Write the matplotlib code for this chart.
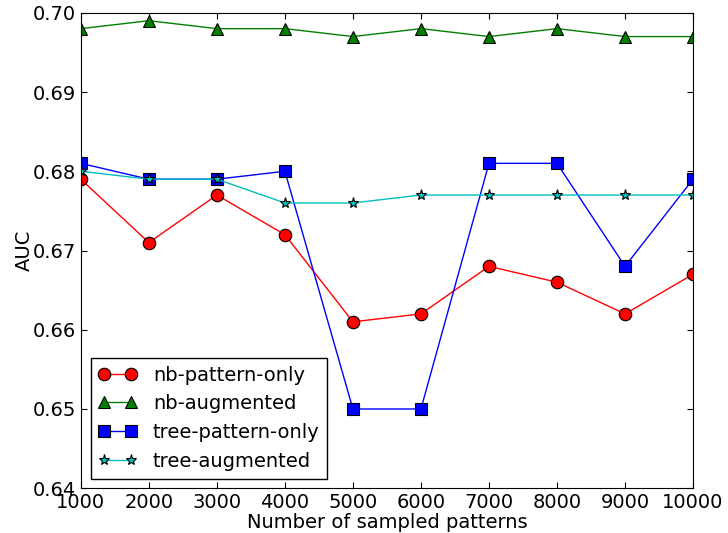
import matplotlib
matplotlib.use("Agg")
import matplotlib.pyplot as plt

samples = [1000, 2000, 3000, 4000, 5000, 6000, 7000, 8000, 9000, 10000]
nb_pattern_only = [0.679, 0.671, 0.677, 0.672, 0.661, 0.662, 0.668, 0.666, 0.662, 0.667]
nb_augmented = [0.698, 0.699, 0.698, 0.698, 0.697, 0.698, 0.697, 0.698, 0.697, 0.697]
tree_pattern_only = [0.681, 0.679, 0.679, 0.680, 0.650, 0.650, 0.681, 0.681, 0.668, 0.679]
tree_augmented = [0.680, 0.679, 0.679, 0.676, 0.676, 0.677, 0.677, 0.677, 0.677, 0.677]

plt.rcParams["font.size"] = 14
plt.rcParams["xtick.direction"] = "in"
plt.rcParams["ytick.direction"] = "in"

fig = plt.figure(figsize=(7.28, 5.33), dpi=100)
ax = fig.add_axes([0.111, 0.084, 0.841, 0.892])

ax.plot(samples, nb_pattern_only, color="red", marker="o", markersize=9,
        markeredgecolor="black", markeredgewidth=0.8, lw=1, label="nb-pattern-only")
ax.plot(samples, nb_augmented, color="green", marker="^", markersize=9,
        markeredgecolor="black", markeredgewidth=0.8, lw=1, label="nb-augmented")
ax.plot(samples, tree_pattern_only, color="blue", marker="s", markersize=8,
        markeredgecolor="black", markeredgewidth=0.8, lw=1, label="tree-pattern-only")
ax.plot(samples, tree_augmented, color="c", marker="*", markersize=8,
        markeredgecolor="black", markeredgewidth=0.8, lw=1, label="tree-augmented")

ax.set_xlim(1000, 10000)
ax.set_ylim(0.64, 0.70)
ax.set_xticks(samples)
ax.set_yticks([0.64, 0.65, 0.66, 0.67, 0.68, 0.69, 0.70])
ax.set_yticklabels(["0.64", "0.65", "0.66", "0.67", "0.68", "0.69", "0.70"])
ax.tick_params(top=True, right=True, length=4, labelsize=14)
ax.set_xlabel("Number of sampled patterns", labelpad=1)
ax.set_ylabel("AUC", labelpad=-1)

leg = ax.legend(loc="lower left", fancybox=False, framealpha=1, edgecolor="black",
                numpoints=2, handlelength=2.0, borderpad=0.4, labelspacing=0.5,
                fontsize=14)
leg.get_frame().set_linewidth(1)

plt.savefig("out.png", dpi=100)
